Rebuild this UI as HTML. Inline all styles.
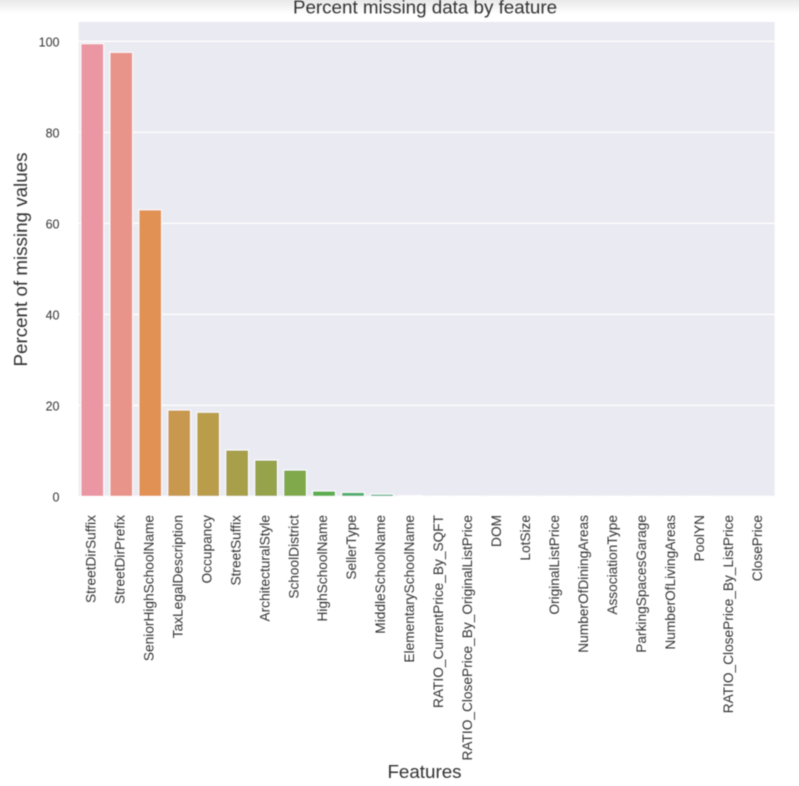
<!DOCTYPE html>
<html>
<head>
<meta charset="utf-8">
<title>Percent missing data by feature</title>
<style>
html,body{margin:0;padding:0;background:#fff;width:799px;height:786px;overflow:hidden}
svg{display:block;font-family:"Liberation Sans",Arial,sans-serif}
</style>
</head>
<body>
<svg id="chart" xmlns="http://www.w3.org/2000/svg" width="799" height="786" viewBox="0 0 799 786">
<defs>
<linearGradient id="topShade" x1="0" y1="0" x2="0" y2="1">
<stop offset="0" stop-color="#e9e9e9"/>
<stop offset="1" stop-color="#ffffff"/>
</linearGradient>
<filter id="soft" x="-2%" y="-2%" width="104%" height="104%"><feGaussianBlur stdDeviation="0.4"/></filter>
</defs>
<rect x="0" y="0" width="799" height="14" fill="url(#topShade)"/>
<g id="root" filter="url(#soft)">
<rect x="78.7" y="22" width="696" height="474" fill="#eaeaf2"/>
<g id="grid"></g>
<g id="bars"></g>
<g id="yticks"></g>
<g id="xticks"></g>
<text x="425" y="13.5" text-anchor="middle" font-size="18.8" fill="#333">Percent missing data by feature</text>
<text transform="translate(27,259.5) rotate(-90)" text-anchor="middle" font-size="18.8" fill="#333">Percent of missing values</text>
<text x="424.5" y="778" text-anchor="middle" font-size="18.8" fill="#333">Features</text>
</g>
</svg>
<script>
const categories = ["StreetDirSuffix","StreetDirPrefix","SeniorHighSchoolName","TaxLegalDescription","Occupancy","StreetSuffix","ArchitecturalStyle","SchoolDistrict","HighSchoolName","SellerType","MiddleSchoolName","ElementarySchoolName","RATIO_CurrentPrice_By_SQFT","RATIO_ClosePrice_By_OriginalListPrice","DOM","LotSize","OriginalListPrice","NumberOfDiningAreas","AssociationType","ParkingSpacesGarage","NumberOfLivingAreas","PoolYN","RATIO_ClosePrice_By_ListPrice","ClosePrice"];
const percentMissing = [99.5,97.6,63,19,18.5,10.2,8,5.8,1.2,0.9,0.5,0.2,0.03,0.03,0.02,0.02,0.02,0.02,0.02,0.02,0.02,0.02,0.01,0.01];
const yTickValues = [0,20,40,60,80,100];
const barPalette = ["#ea96a3","#e8948a","#e19153","#c9984f","#b99d4c","#a89f4c","#97a34c","#80a94c","#5bae4e","#50ad6f","#53ac8a","#55aa9c","#57a9a6","#59a8b2","#5ca7bd","#60a6c9","#72a2d6","#8b9ddb","#a596db","#bd8fdb","#d088d6","#dd86c8","#e489b9","#e78fae"];

const NS = "http://www.w3.org/2000/svg";
const xLeft = 77.8, bandStep = 28.97, barWidth = 22.8;
const y0 = 496.4, yPerUnit = 4.55;
function xScale(i) { return xLeft + bandStep * (i + 0.5); }
function yScale(v) { return y0 - v * yPerUnit; }
function make(tag, attrs, parent, text) {
  const el = document.createElementNS(NS, tag);
  for (const k in attrs) el.setAttribute(k, attrs[k]);
  if (text !== undefined) el.textContent = text;
  parent.appendChild(el);
  return el;
}
const gridG = document.getElementById("grid");
const barsG = document.getElementById("bars");
const yG = document.getElementById("yticks");
const xG = document.getElementById("xticks");

yTickValues.forEach(function (t) {
  const y = yScale(t);
  const line = make("line", {x1: 78.7, x2: 774.7, y1: y, y2: y, stroke: "#ffffff", "stroke-width": 1.2}, gridG);
  
  
  const label = make("text", {x: 59.5, y: y + 5, "text-anchor": "end", "font-size": 12.5, fill: "#333"}, yG, String(t));
  
  
});

categories.forEach(function (name, i) {
  const cx = xScale(i);
  const top = yScale(percentMissing[i]);
  const bar = make("rect", {x: cx - barWidth / 2, y: top, width: barWidth, height: y0 - top, fill: barPalette[i], stroke: "#ffffff", "stroke-width": 1}, barsG);
  
  
  const label = make("text", {transform: "translate(" + (cx + 3.2) + ",515) rotate(-90)", "text-anchor": "end", "font-size": 13.7, fill: "#333"}, xG, name);
  
  
});
</script>
</body>
</html>
